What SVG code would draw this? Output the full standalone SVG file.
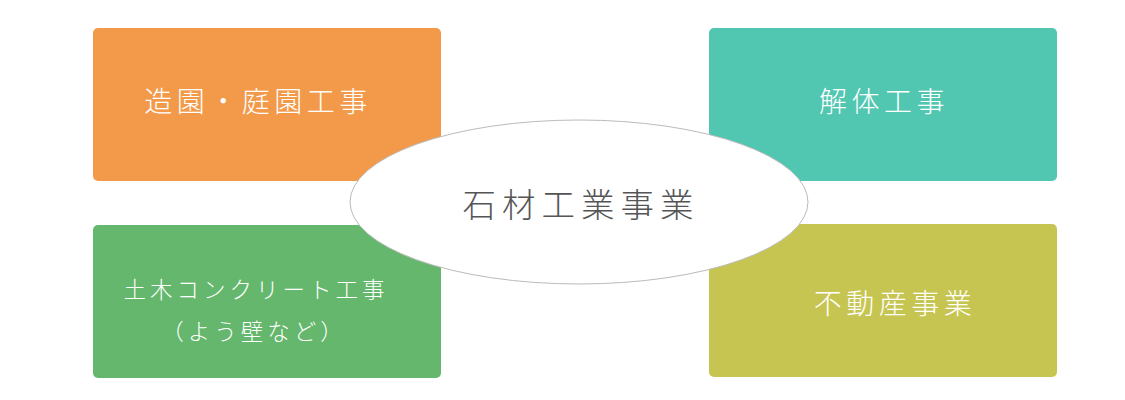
<svg xmlns="http://www.w3.org/2000/svg" width="1125" height="400" viewBox="0 0 1125 400">
<style>
.box{stroke:none}
.lbl{font-family:"Noto Sans CJK JP","Noto Sans CJK SC",sans-serif;fill:#ffffff;font-weight:300}
.big{font-size:28px;letter-spacing:4.5px}
.small{font-size:22.5px;letter-spacing:4px}
.center{font-family:"Noto Sans CJK JP","Noto Sans CJK SC",sans-serif;fill:#555555;font-size:33.5px;letter-spacing:6px;font-weight:300}
</style>
<rect width="1125" height="400" fill="#ffffff"/>
<g id="node-zoen">
<rect class="box" x="93" y="28" width="348" height="153" rx="5" fill="#F29A4A"/>
<text class="lbl big" x="258" y="112" text-anchor="middle">造園・庭園工事</text>
</g>
<g id="node-kaitai">
<rect class="box" x="709" y="28" width="348" height="153" rx="5" fill="#51C6B1"/>
<text class="lbl big" x="884" y="112" text-anchor="middle">解体工事</text>
</g>
<g id="node-doboku">
<rect class="box" x="93" y="225" width="348" height="153" rx="5" fill="#64B76C"/>
<text class="lbl small" x="256" y="298" text-anchor="middle">土木コンクリート工事</text>
<text class="lbl small" x="254" y="340" text-anchor="middle">（よう壁など）</text>
</g>
<g id="node-fudosan">
<rect class="box" x="709" y="224" width="348" height="153" rx="5" fill="#C7C552"/>
<text class="lbl big" x="895" y="314" text-anchor="middle">不動産事業</text>
</g>
<g id="connectors"></g>
<g id="node-center">
<ellipse cx="579" cy="202" rx="229" ry="82" fill="#ffffff" stroke="#bbbbbb" stroke-width="1"/>
<text class="center" x="581" y="217" text-anchor="middle">石材工業事業</text>
</g>
</svg>
